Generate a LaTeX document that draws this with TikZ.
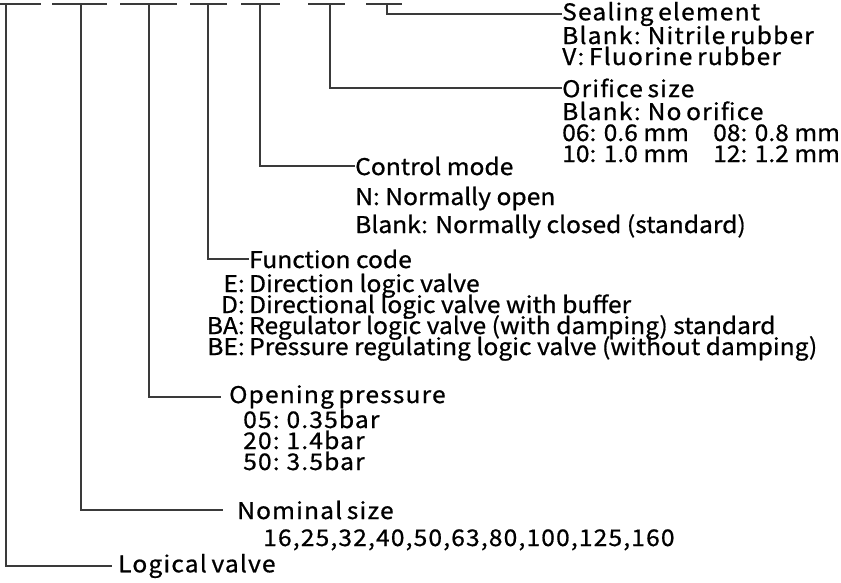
\documentclass[tikz,border=0pt]{standalone}
\usepackage{fontspec}
\setmainfont{Noto Sans CJK SC}[FakeStretch=1.07,FakeBold=0.7]
\newfontfamily\spacedfont{Noto Sans CJK SC}[FakeStretch=1.07,LetterSpace=5,WordSpace=0.7,FakeBold=0.7]
\usepackage{tikz}
\usetikzlibrary{positioning,calc}
\definecolor{leader}{HTML}{3A3A3A}
\newcommand\titlefont{\spacedfont\fontsize{23}{21}\selectfont}
\newcommand\detailfont{\spacedfont\fontsize{23}{21}\selectfont\lineskiplimit=-50pt\relax}
\newcommand\plainfont{\rmfamily\fontsize{23}{21}\selectfont\lineskiplimit=-50pt\relax}
\newcommand\widefont{\rmfamily\fontsize{23}{28}\selectfont\lineskiplimit=-50pt\relax}

\tikzset{
  slot/.style={leader,line width=1.5pt},
  leadline/.style={leader,line width=1.4pt},
  title/.style={anchor=west,inner sep=0pt,font=\titlefont},
  detail/.style={anchor=base west,inner sep=0pt,align=left,font=\detailfont}
}

\begin{document}
\begin{tikzpicture}[x=1pt,y=-1pt]
  \useasboundingbox (0,0) rectangle (841,582);
  % code slots along the top
  \foreach \a/\b/\m [count=\i] in {0/41/6,52/107/81,120/177/149,190/227/208,
                                   241/280/260,308/345/330,366/402/387}{
    \draw[slot] (\a,4) -- (\b,4);
    \coordinate (s\i) at (\m,4);}
  % sealing element
  \node[title] (seal) at (562,14) {Sealing element};
  \node[detail] (sealopt) at (562,65) {Blank: Nitrile rubber\\V: Fluorine rubber};
  \draw[leadline] (s7) |- (seal.west);
  % orifice
  \node[title] (orif) at (562,88) {Orifice size};
  \node[detail] (orifopt) at (562,162)
    {Blank: No orifice\\
     {\plainfont\makebox[151pt][l]{06: 0.6 mm}08: 0.8 mm}\\
     {\plainfont\makebox[151pt][l]{10: 1.0 mm}12: 1.2 mm}};
  \draw[leadline] (s6) |- (orif.west);
  % control mode
  \node[title,font=\plainfont] (ctrl) at (355,166) {Control mode};
  \node[detail,font=\widefont] (ctrlopt) at (355,233)
    {N: Normally open\\Blank: Normally closed (standard)};
  \draw[leadline] (s5) |- (ctrl.west);
  % function code
  \node[title,font=\plainfont] (func) at (249,259) {Function code};
  \node[detail,font=\plainfont,anchor=base east,align=right] (funckey) at (245,355) {E:\\D:\\BA:\\BE:};
  \node[detail,font=\plainfont] (funcopt) at (249,355)
    {Direction logic valve\\
     Directional logic valve with buffer\\
     Regulator logic valve (with damping) standard\\
     Pressure regulating logic valve (without damping)};
  \draw[leadline] (s4) |- (func.west);
  % opening pressure
  \node[title] (open) at (229,397) {Opening pressure};
  \node[detail] (openopt) at (243,470) {05: 0.35bar\\20: 1.4bar\\50: 3.5bar};
  \draw[leadline] (s3) |- ($(open.west)+(-8,0)$);
  % nominal size
  \node[title] (nom) at (237,510) {Nominal size};
  \node[detail] (nomopt) at (263,546) {16,25,32,40,50,63,80,100,125,160};
  \draw[leadline] (s2) |- ($(nom.west)+(-14,0)$);
  % logical valve
  \node[title] (logic) at (118,566) {Logical valve};
  \draw[leadline] (s1) |- ($(logic.west)+(-6,0)$);
\end{tikzpicture}
\end{document}
